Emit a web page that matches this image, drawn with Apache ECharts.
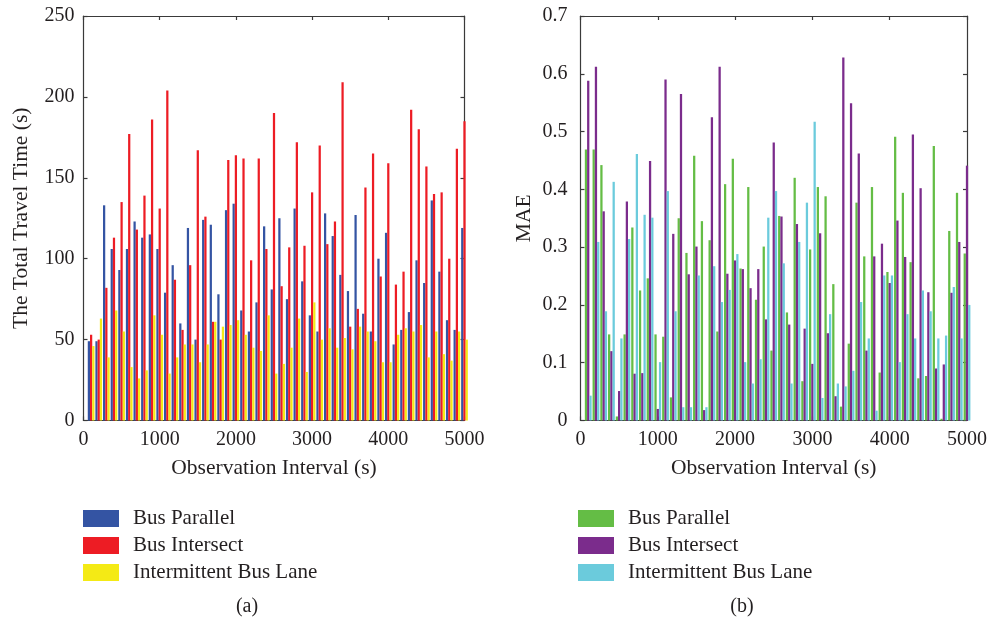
<!DOCTYPE html>
<html>
<head>
<meta charset="utf-8">
<script src="https://cdn.jsdelivr.net/npm/echarts/dist/echarts.min.js"></script>
<style>
  html, body { margin: 0; padding: 0; background: #ffffff; }
  #chart { width: 990px; height: 625px; }
</style>
</head>
<body>
<div id="chart"></div>
<script>
// Observation intervals (s): one bar group per interval
const intervals = [
  100, 200, 300, 400, 500, 600, 700, 800, 900, 1000,
  1100, 1200, 1300, 1400, 1500, 1600, 1700, 1800, 1900, 2000,
  2100, 2200, 2300, 2400, 2500, 2600, 2700, 2800, 2900, 3000,
  3100, 3200, 3300, 3400, 3500, 3600, 3700, 3800, 3900, 4000,
  4100, 4200, 4300, 4400, 4500, 4600, 4700, 4800, 4900, 5000
];

const seriesNames = ['Bus Parallel', 'Bus Intersect', 'Intermittent Bus Lane'];

// (a) total travel time (s)
const travelParallel = [
  49, 49, 133, 106, 93, 106, 123, 113, 115, 106,
  79, 96, 60, 119, 50, 124, 121, 78, 130, 134,
  68, 55, 73, 120, 81, 125, 75, 131, 86, 65,
  55, 128, 114, 90, 80, 127, 66, 55, 100, 116,
  47, 56, 67, 99, 85, 136, 92, 62, 56, 119
];
const travelIntersect = [
  53, 50, 82, 113, 135, 177, 118, 139, 186, 131,
  204, 87, 56, 96, 167, 126, 61, 50, 161, 164,
  162, 99, 162, 106, 190, 83, 107, 172, 108, 141,
  170, 109, 123, 209, 58, 69, 144, 165, 89, 159,
  84, 92, 192, 180, 157, 140, 141, 100, 168, 185
];
const travelIntermittent = [
  46, 63, 39, 68, 55, 33, 26, 31, 65, 53,
  29, 39, 47, 47, 36, 47, 61, 58, 59, 62,
  53, 45, 43, 65, 29, 35, 45, 63, 30, 73,
  50, 57, 45, 51, 44, 58, 55, 49, 36, 36,
  53, 57, 55, 59, 39, 55, 41, 37, 55, 50
];

// (b) mean absolute error
const maeParallel = [
  0.469, 0.469, 0.442, 0.149, 0.007, 0.149, 0.334, 0.225, 0.246, 0.149,
  0.145, 0.040, 0.350, 0.290, 0.458, 0.345, 0.312, 0.154, 0.409, 0.453,
  0.263, 0.404, 0.209, 0.301, 0.121, 0.354, 0.187, 0.420, 0.068, 0.296,
  0.404, 0.388, 0.236, 0.024, 0.133, 0.377, 0.284, 0.404, 0.083, 0.257,
  0.491, 0.394, 0.274, 0.073, 0.077, 0.475, 0.003, 0.328, 0.394, 0.289
];
const maeIntersect = [
  0.588, 0.612, 0.362, 0.120, 0.051, 0.379, 0.081, 0.082, 0.449, 0.020,
  0.590, 0.323, 0.565, 0.253, 0.301, 0.018, 0.525, 0.612, 0.254, 0.277,
  0.262, 0.229, 0.262, 0.175, 0.481, 0.353, 0.166, 0.340, 0.159, 0.098,
  0.324, 0.151, 0.042, 0.628, 0.549, 0.462, 0.121, 0.284, 0.306, 0.238,
  0.346, 0.283, 0.495, 0.402, 0.222, 0.090, 0.097, 0.221, 0.309, 0.441
];
const maeIntermittent = [
  0.043, 0.309, 0.189, 0.413, 0.142, 0.314, 0.461, 0.356, 0.351, 0.101,
  0.397, 0.189, 0.023, 0.023, 0.251, 0.023, 0.267, 0.205, 0.226, 0.288,
  0.101, 0.064, 0.106, 0.351, 0.397, 0.272, 0.064, 0.309, 0.377, 0.517,
  0.039, 0.184, 0.064, 0.059, 0.086, 0.205, 0.142, 0.017, 0.251, 0.251,
  0.101, 0.184, 0.142, 0.225, 0.189, 0.142, 0.147, 0.231, 0.142, 0.200
];

const colorsA = ['#3454a3', '#ed1c24', '#f4ea15'];
const colorsB = ['#64bd45', '#7b2c8c', '#6bcbdc'];

const FONT = 'Liberation Serif';
const TEXT = '#231f20';
const LINE = '#3a3a3a';

const pairs = (values) => intervals.map((x, i) => [x, values[i]]);
const plain = (v) => String(v);

// Shared axis look: boxed frame, inward ticks
function axisBase(extra) {
  return Object.assign({
    type: 'value',
    axisLine: { show: true, onZero: false, lineStyle: { color: LINE, width: 1.2 } },
    axisTick: { show: true, inside: true, length: 4, lineStyle: { color: LINE, width: 1.2 } },
    splitLine: { show: false },
    nameTextStyle: { fontFamily: FONT, fontSize: 21.5, color: TEXT },
    nameMoveOverlap: false
  }, extra);
}
function frameAxis(extra) {
  const a = axisBase(extra);
  a.axisLabel = { show: false };
  a.name = '';
  return a;
}
function labelStyle(margin) {
  return { show: true, fontFamily: FONT, fontSize: 20, color: TEXT, margin: margin, formatter: plain };
}

function barSeries(name, values, color, xi, yi) {
  return {
    type: 'bar',
    name: name,
    data: pairs(values),
    xAxisIndex: xi,
    yAxisIndex: yi,
    barGap: '0%',
    barCategoryGap: '12%',
    clip: true,
    itemStyle: { color: color },
    emphasis: { disabled: true }
  };
}

function legendFor(left, colors) {
  return {
    orient: 'vertical',
    left: left,
    top: 508,
    padding: 0,
    itemWidth: 36,
    itemHeight: 17,
    itemGap: 6,
    icon: 'rect',
    selectedMode: false,
    textStyle: { fontFamily: FONT, fontSize: 21, color: TEXT, padding: [0, 0, 0, 9] },
    data: seriesNames.map((n, i) => ({ name: n, itemStyle: { color: colors[i] } }))
  };
}

const chart = echarts.init(document.getElementById('chart'), null, { renderer: 'canvas' });

chart.setOption({
  animation: false,
  backgroundColor: '#ffffff',
  grid: [
    { left: 83.5, top: 16, width: 381, height: 404.5, containLabel: false, outerBoundsMode: 'none' },
    { left: 580.5, top: 16, width: 386.5, height: 404.5, containLabel: false, outerBoundsMode: 'none' }
  ],
  xAxis: [
    axisBase({ gridIndex: 0, position: 'bottom', min: 0, max: 5000, interval: 1000,
      name: 'Observation Interval (s)', nameLocation: 'middle', nameGap: 37,
      axisLabel: labelStyle(9) }),
    frameAxis({ gridIndex: 0, position: 'top', min: 0, max: 5000, interval: 1000 }),
    axisBase({ gridIndex: 1, position: 'bottom', min: 0, max: 5000, interval: 1000,
      name: 'Observation Interval (s)', nameLocation: 'middle', nameGap: 37,
      axisLabel: labelStyle(9) }),
    frameAxis({ gridIndex: 1, position: 'top', min: 0, max: 5000, interval: 1000 })
  ],
  yAxis: [
    axisBase({ gridIndex: 0, position: 'left', min: 0, max: 250, interval: 50,
      name: 'The Total Travel Time (s)', nameLocation: 'middle', nameGap: 51,
      axisLabel: labelStyle(9) }),
    frameAxis({ gridIndex: 0, position: 'right', min: 0, max: 250, interval: 50 }),
    axisBase({ gridIndex: 1, position: 'left', min: 0, max: 0.7, interval: 0.1,
      name: 'MAE', nameLocation: 'middle', nameGap: 45,
      axisLabel: labelStyle(13) }),
    frameAxis({ gridIndex: 1, position: 'right', min: 0, max: 0.7, interval: 0.1 })
  ],
  legend: [legendFor(83, colorsA), legendFor(578, colorsB)],
  series: [
    barSeries(seriesNames[0], travelParallel, colorsA[0], 0, 0),
    barSeries(seriesNames[1], travelIntersect, colorsA[1], 0, 0),
    barSeries(seriesNames[2], travelIntermittent, colorsA[2], 0, 0),
    barSeries(seriesNames[0], maeParallel, colorsB[0], 2, 2),
    barSeries(seriesNames[1], maeIntersect, colorsB[1], 2, 2),
    barSeries(seriesNames[2], maeIntermittent, colorsB[2], 2, 2)
  ],
  graphic: [
    { type: 'text', x: 247, y: 607, silent: true,
      style: { text: '(a)', font: '20px "Liberation Serif"', fill: TEXT, textAlign: 'center', textVerticalAlign: 'middle' } },
    { type: 'text', x: 742, y: 607, silent: true,
      style: { text: '(b)', font: '20px "Liberation Serif"', fill: TEXT, textAlign: 'center', textVerticalAlign: 'middle' } }
  ]
});
</script>
</body>
</html>
